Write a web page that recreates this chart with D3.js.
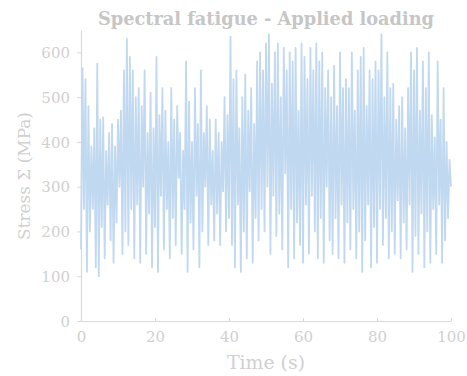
<!DOCTYPE html>
<html><head><meta charset="utf-8">
<script src="https://cdn.jsdelivr.net/npm/d3@7"></script>
<style>
html,body{margin:0;padding:0;background:#fff;}
svg{display:block;}
</style></head>
<body>
<svg id="chart" width="467" height="376"></svg>
<script>
const title = "Spectral fatigue - Applied loading";
const xLabel = "Time (s)";
const yLabel = "Stress \u03A3 (MPa)";
const xTicks = [0, 20, 40, 60, 80, 100];
const yTicks = [0, 100, 200, 300, 400, 500, 600];
const timeStep = 0.4;
const stress = [
160,565,250,540,110,480,200,390,250,430,
120,575,100,450,210,455,140,380,260,420,
180,440,130,390,220,450,300,470,150,560,
200,630,170,590,250,560,140,500,260,520,
130,480,300,560,150,420,240,510,120,430,
210,590,110,460,280,520,160,470,250,400,
140,520,230,450,170,480,320,420,150,380,
250,580,110,490,220,400,160,520,280,440,
120,560,200,420,300,480,170,450,260,380,
180,450,240,420,170,400,290,500,200,460,
230,635,170,540,120,560,260,430,110,500,
200,550,140,470,290,520,130,440,230,580,
180,600,250,560,200,620,300,640,150,530,
280,600,190,620,240,500,160,610,330,560,
120,600,250,580,140,610,220,470,170,620,
130,590,260,540,150,610,280,560,200,620,
140,580,230,600,130,520,300,560,180,500,
150,570,230,480,140,600,260,520,130,540,
220,520,160,600,250,470,140,560,200,590,
110,610,180,480,260,560,120,540,210,580,
130,560,250,640,170,500,230,600,140,520,
200,530,150,450,270,480,140,500,220,430,
160,520,260,600,110,560,190,610,150,470,
240,580,120,520,200,600,130,460,250,410,
150,580,260,450,130,520,180,400,230,360,
300
];
const times = stress.map((_, i) => +(i * timeStep).toFixed(1));

const svg = d3.select("#chart");
const font = "'DejaVu Serif', serif";
const x = d3.scaleLinear().domain([0, 100]).range([81, 451]);
const y = d3.scaleLinear().domain([0, 650]).range([321, 30]);

function fit(sel, w) {
  const n = sel.node();
  const fs = parseFloat(sel.attr("font-size"));
  const len = n.getComputedTextLength();
  sel.attr("font-size", (fs * w / len).toFixed(2));
}

const ya = svg.append("g").attr("transform", "translate(81,0)")
  .call(d3.axisLeft(y).tickValues(yTicks).tickSize(4).tickPadding(7).tickSizeOuter(0));
const xa = svg.append("g").attr("transform", "translate(0,321)")
  .call(d3.axisBottom(x).tickValues(xTicks).tickSize(-3).tickPadding(10).tickSizeOuter(0));
[ya, xa].forEach(a => {
  a.select(".domain").attr("stroke", "#d9d9d9").attr("stroke-width", 1.2);
  a.selectAll(".tick line").attr("stroke", "#d9d9d9");
  a.selectAll(".tick text").attr("fill", "#d0d0d0").attr("font-family", font).attr("font-size", 15);
});
ya.selectAll(".tick text").attr("dy", "0.35em");

const line = d3.line().x((d, i) => x(times[i])).y(d => y(d));
svg.append("path").datum(stress)
  .attr("d", line)
  .attr("fill", "none")
  .attr("stroke", "#c0d8f0")
  .attr("stroke-width", 1.8)
  .attr("stroke-linejoin", "round");

const t = svg.append("text").attr("x", 266).attr("y", 25).attr("text-anchor", "middle")
  .attr("font-family", font).attr("font-weight", "bold").attr("font-size", 18)
  .attr("fill", "#c6c6c6").text(title);
fit(t, 336);

const xl = svg.append("text").attr("x", 266).attr("y", 369).attr("text-anchor", "middle")
  .attr("font-family", font).attr("font-size", 16).attr("fill", "#d0d0d0").text(xLabel);
fit(xl, 78);

const yl = svg.append("text").attr("transform", "translate(30,176) rotate(-90)")
  .attr("text-anchor", "middle")
  .attr("font-family", font).attr("font-size", 16).attr("fill", "#d0d0d0").text(yLabel);
fit(yl, 128);
</script>
</body></html>
